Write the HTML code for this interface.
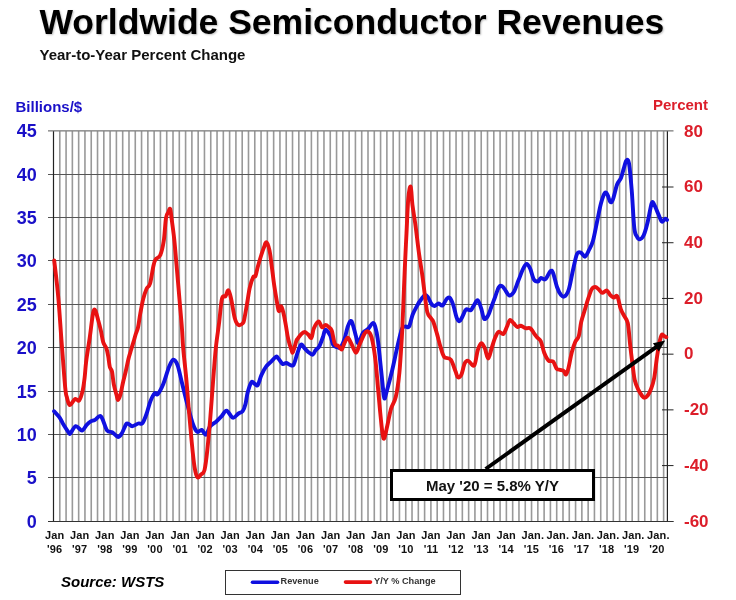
<!DOCTYPE html>
<html><head><meta charset="utf-8"><style>
html,body{margin:0;padding:0;background:#fff;}
body{width:736px;height:600px;position:relative;overflow:hidden;font-family:"Liberation Sans",Arial,sans-serif;}
.t{position:absolute;white-space:nowrap;font-weight:bold;line-height:1;}
svg{position:absolute;left:0;top:0;}
svg text{font-family:"Liberation Sans",Arial,sans-serif;font-weight:bold;}
.lb{font-size:18px;fill:#1a10c8;}
.rl{font-size:17px;fill:#dc1e2a;}
.xl{font-size:11px;fill:#111;letter-spacing:0.15px;}
</style></head><body>
<svg width="736" height="600" viewBox="0 0 736 600">
<path d="M59.79 131.3V521.3M66.08 131.3V521.3M72.37 131.3V521.3M78.66 131.3V521.3M84.95 131.3V521.3M91.24 131.3V521.3M97.53 131.3V521.3M103.82 131.3V521.3M110.11 131.3V521.3M116.40 131.3V521.3M122.69 131.3V521.3M128.98 131.3V521.3M135.27 131.3V521.3M141.56 131.3V521.3M147.85 131.3V521.3M154.14 131.3V521.3M160.43 131.3V521.3M166.72 131.3V521.3M173.01 131.3V521.3M179.30 131.3V521.3M185.59 131.3V521.3M191.88 131.3V521.3M198.17 131.3V521.3M204.46 131.3V521.3M210.75 131.3V521.3M217.04 131.3V521.3M223.33 131.3V521.3M229.62 131.3V521.3M235.91 131.3V521.3M242.20 131.3V521.3M248.49 131.3V521.3M254.78 131.3V521.3M261.07 131.3V521.3M267.36 131.3V521.3M273.65 131.3V521.3M279.94 131.3V521.3M286.23 131.3V521.3M292.52 131.3V521.3M298.81 131.3V521.3M305.10 131.3V521.3M311.39 131.3V521.3M317.68 131.3V521.3M323.97 131.3V521.3M330.26 131.3V521.3M336.55 131.3V521.3M342.84 131.3V521.3M349.13 131.3V521.3M355.42 131.3V521.3M361.71 131.3V521.3M368.00 131.3V521.3M374.29 131.3V521.3M380.58 131.3V521.3M386.87 131.3V521.3M393.16 131.3V521.3M399.45 131.3V521.3M405.74 131.3V521.3M412.03 131.3V521.3M418.32 131.3V521.3M424.61 131.3V521.3M430.90 131.3V521.3M437.19 131.3V521.3M443.48 131.3V521.3M449.77 131.3V521.3M456.06 131.3V521.3M462.35 131.3V521.3M468.64 131.3V521.3M474.93 131.3V521.3M481.22 131.3V521.3M487.51 131.3V521.3M493.80 131.3V521.3M500.09 131.3V521.3M506.38 131.3V521.3M512.67 131.3V521.3M518.96 131.3V521.3M525.25 131.3V521.3M531.54 131.3V521.3M537.83 131.3V521.3M544.12 131.3V521.3M550.41 131.3V521.3M556.70 131.3V521.3M562.99 131.3V521.3M569.28 131.3V521.3M575.57 131.3V521.3M581.86 131.3V521.3M588.15 131.3V521.3M594.44 131.3V521.3M600.73 131.3V521.3M607.02 131.3V521.3M613.31 131.3V521.3M619.60 131.3V521.3M625.89 131.3V521.3M632.18 131.3V521.3M638.47 131.3V521.3M644.76 131.3V521.3M651.05 131.3V521.3M657.34 131.3V521.3M663.63 131.3V521.3" stroke="#999" stroke-width="1.6" fill="none"/>
<path d="M48 521.50H673.5M48 477.50H667.4M48 434.50H667.4M48 391.50H667.4M48 347.50H667.4M48 304.50H667.4M48 260.50H667.4M48 217.50H667.4M48 174.50H667.4M48 130.90H673.5" stroke="#555" stroke-width="1" fill="none"/>
<path d="M48 521.5H673.5" stroke="#333" stroke-width="1" fill="none"/>
<path d="M662 465.59H673.5M662 409.87H673.5M662 354.16H673.5M662 298.44H673.5M662 242.73H673.5M662 187.01H673.5" stroke="#222" stroke-width="1" fill="none"/>
<path d="M53.5 131.3V521.3M667.4 131.3V521.3" stroke="#222" stroke-width="1.2" fill="none"/>
<path d="M54.1 411.3 C55.0 412.3 57.9 415.1 59.5 417.4 C61.1 419.6 62.0 422.2 63.6 424.8 C65.2 427.4 67.9 431.6 69.0 433.0 C70.1 434.4 69.3 434.4 70.4 433.3 C71.5 432.2 73.9 426.7 75.8 426.2 C77.7 425.7 80.1 430.7 81.9 430.5 C83.7 430.3 85.2 426.3 86.7 424.8 C88.2 423.3 89.5 422.2 90.8 421.4 C92.1 420.6 93.1 420.8 94.8 420.0 C96.5 419.2 99.0 414.7 101.0 416.4 C103.0 418.1 105.1 427.6 107.0 430.3 C108.9 433.0 110.7 431.2 112.5 432.3 C114.3 433.4 116.4 436.9 118.0 437.0 C119.6 437.1 120.5 435.2 122.0 433.0 C123.5 430.8 125.1 424.6 126.8 423.5 C128.5 422.4 130.3 426.2 132.2 426.2 C134.1 426.2 136.6 424.0 138.3 423.5 C140.0 423.0 141.0 424.8 142.4 423.2 C143.8 421.6 145.2 417.7 146.5 414.0 C147.8 410.3 149.1 404.5 150.5 401.0 C151.9 397.5 153.7 394.2 154.9 393.1 C156.1 392.0 156.3 395.8 157.7 394.2 C159.1 392.6 161.5 388.3 163.4 383.7 C165.3 379.1 167.4 370.7 169.1 366.7 C170.8 362.7 171.9 359.9 173.3 359.7 C174.7 359.5 176.2 361.5 177.6 365.3 C179.0 369.1 180.2 375.7 181.8 382.3 C183.5 388.9 185.6 397.9 187.5 405.0 C189.4 412.1 191.5 420.3 193.2 424.8 C194.8 429.3 196.0 431.0 197.4 431.9 C198.8 432.8 200.3 429.4 201.7 429.9 C203.1 430.4 204.5 435.3 205.9 434.7 C207.3 434.1 208.5 428.3 210.2 426.2 C211.8 424.1 213.9 423.6 215.8 422.0 C217.7 420.4 219.7 418.2 221.5 416.3 C223.3 414.4 224.7 410.5 226.6 410.7 C228.5 410.9 230.8 417.2 232.8 417.7 C234.8 418.2 236.8 414.6 238.5 413.5 C240.2 412.4 241.5 412.8 242.7 411.2 C243.9 409.6 244.7 407.1 245.5 404.0 C246.3 400.9 246.7 395.9 247.7 392.3 C248.7 388.7 250.2 383.6 251.4 382.2 C252.6 380.8 254.0 383.6 255.1 384.1 C256.2 384.6 256.7 386.5 257.8 385.0 C258.9 383.5 260.1 377.9 261.5 374.9 C262.9 371.8 264.4 369.0 266.1 366.7 C267.8 364.4 269.9 362.9 271.6 361.2 C273.3 359.5 275.0 356.9 276.2 356.6 C277.4 356.3 277.8 358.1 278.9 359.3 C280.0 360.5 281.4 363.3 282.6 363.9 C283.8 364.5 285.0 362.9 286.2 363.0 C287.4 363.1 288.7 364.5 289.9 364.8 C291.1 365.1 292.4 366.6 293.6 364.8 C294.8 363.0 296.0 357.2 297.2 353.8 C298.4 350.4 299.7 345.6 300.9 344.7 C302.1 343.8 303.4 347.1 304.6 348.3 C305.8 349.5 306.8 350.9 308.2 352.0 C309.6 353.1 311.6 355.0 312.8 354.7 C314.0 354.4 314.5 351.6 315.6 350.2 C316.7 348.8 318.0 348.6 319.2 346.5 C320.4 344.4 321.8 340.1 322.9 337.3 C323.9 334.5 324.3 330.0 325.5 329.7 C326.7 329.4 328.9 332.9 330.2 335.5 C331.5 338.1 332.0 343.1 333.2 345.0 C334.4 346.9 335.9 346.8 337.2 347.2 C338.4 347.6 339.5 348.6 340.7 347.2 C341.9 345.8 343.3 342.5 344.5 339.0 C345.7 335.5 346.8 328.9 348.0 326.0 C349.2 323.1 350.2 319.6 351.5 321.3 C352.8 323.0 354.8 332.4 355.9 336.0 C357.0 339.6 357.1 343.6 358.3 343.0 C359.5 342.4 361.5 335.0 363.1 332.7 C364.7 330.4 366.4 330.6 368.0 329.0 C369.6 327.4 371.6 323.4 372.8 323.0 C374.0 322.6 374.4 324.0 375.2 326.6 C376.0 329.2 376.9 333.1 377.7 338.7 C378.5 344.3 379.3 353.0 380.1 360.5 C380.9 368.0 381.8 377.2 382.5 383.5 C383.2 389.8 383.6 397.1 384.3 398.3 C385.0 399.6 385.5 395.7 386.8 391.0 C388.1 386.3 390.5 377.3 392.2 370.2 C393.9 363.1 395.4 355.3 397.0 348.4 C398.6 341.5 400.5 332.6 401.9 329.0 C403.3 325.4 404.3 327.0 405.5 326.6 C406.7 326.2 407.9 328.6 409.1 326.6 C410.3 324.6 411.3 318.1 412.7 314.5 C414.1 310.9 416.4 307.1 417.6 304.8 C418.8 302.6 418.8 302.6 420.0 301.0 C421.2 299.4 423.4 295.9 424.7 295.2 C426.0 294.5 426.7 295.5 427.8 297.0 C428.9 298.5 430.4 302.5 431.5 304.0 C432.6 305.5 433.3 306.1 434.5 306.0 C435.7 305.9 437.4 303.6 438.7 303.5 C440.0 303.4 441.1 306.3 442.5 305.5 C443.9 304.7 445.6 300.0 446.8 298.7 C448.0 297.4 448.6 296.8 449.7 297.8 C450.8 298.8 452.0 301.5 453.2 304.8 C454.4 308.1 455.6 315.0 456.7 317.7 C457.8 320.4 458.5 321.4 459.5 321.2 C460.5 321.0 461.4 318.4 462.5 316.5 C463.6 314.6 464.6 310.6 466.0 309.5 C467.4 308.4 469.3 311.0 470.7 310.2 C472.1 309.4 473.0 306.5 474.2 304.8 C475.4 303.1 476.5 299.6 477.7 300.2 C478.9 300.8 480.1 305.2 481.2 308.3 C482.3 311.4 483.0 317.6 484.2 318.8 C485.4 320.0 486.9 317.4 488.2 315.3 C489.4 313.2 490.5 309.1 491.7 306.0 C492.9 302.9 494.0 299.8 495.2 296.7 C496.4 293.6 497.5 289.1 498.7 287.3 C499.9 285.6 501.0 285.6 502.2 286.2 C503.4 286.8 504.5 289.2 505.7 290.8 C506.9 292.4 507.9 295.3 509.2 295.5 C510.5 295.7 512.2 294.5 513.8 292.0 C515.3 289.5 516.9 284.2 518.5 280.3 C520.1 276.4 521.8 271.4 523.2 268.7 C524.6 266.0 525.5 264.0 526.7 264.0 C527.9 264.0 529.0 266.2 530.2 268.7 C531.4 271.2 532.4 277.1 533.7 279.2 C535.0 281.3 536.7 281.7 537.9 281.5 C539.1 281.3 539.5 278.4 540.7 278.0 C541.9 277.6 543.7 280.3 545.3 279.2 C546.9 278.1 549.0 272.4 550.3 271.3 C551.6 270.2 551.9 270.1 553.0 272.7 C554.1 275.3 555.7 283.3 557.0 287.0 C558.3 290.7 559.7 293.5 561.0 295.0 C562.3 296.5 563.7 297.2 565.0 296.1 C566.3 295.1 567.7 293.1 569.0 288.7 C570.3 284.3 571.7 275.8 573.0 270.0 C574.3 264.2 575.7 256.9 577.0 254.0 C578.3 251.1 579.7 252.2 581.0 252.7 C582.3 253.1 583.7 257.1 585.0 256.7 C586.3 256.2 587.7 252.7 589.0 250.0 C590.3 247.3 591.7 245.4 593.0 240.7 C594.3 236.0 595.7 228.2 597.0 222.0 C598.3 215.8 599.7 208.2 601.0 203.3 C602.3 198.4 603.9 194.0 605.0 192.7 C606.1 191.4 606.8 193.8 607.7 195.3 C608.6 196.9 609.4 201.3 610.3 202.0 C611.2 202.7 611.9 202.2 613.0 199.3 C614.1 196.4 615.7 188.2 617.0 184.7 C618.3 181.1 619.9 180.7 621.0 178.0 C622.1 175.3 622.8 171.6 623.7 168.7 C624.6 165.8 625.4 161.6 626.3 160.7 C627.2 159.8 628.1 158.4 629.0 163.3 C629.9 168.2 630.8 179.2 631.7 190.0 C632.6 200.8 633.4 220.2 634.3 228.0 C635.2 235.8 636.1 234.8 637.0 236.7 C637.9 238.6 638.6 239.5 639.7 239.3 C640.8 239.1 642.4 238.2 643.7 235.3 C645.0 232.4 646.4 227.3 647.7 222.0 C649.0 216.7 650.6 206.2 651.7 203.3 C652.8 200.4 653.2 202.9 654.3 204.7 C655.4 206.5 657.0 211.2 658.3 214.0 C659.5 216.8 660.7 220.7 661.8 221.5 C662.9 222.3 664.1 219.1 665.0 218.8 C665.9 218.5 666.7 219.7 667.0 219.9" stroke="#1010e0" stroke-width="3.9" fill="none" stroke-linejoin="round" stroke-linecap="round"/>
<path d="M54.2 260.5 C54.9 266.5 57.0 282.8 58.2 296.6 C59.5 310.4 60.5 328.1 61.7 343.2 C62.9 358.3 64.3 378.4 65.2 387.5 C66.1 396.6 66.2 394.8 67.0 397.7 C67.8 400.6 68.4 404.9 69.7 405.1 C71.0 405.3 73.5 399.8 75.1 399.0 C76.7 398.2 78.0 401.8 79.2 400.4 C80.5 399.0 81.7 394.6 82.6 390.9 C83.5 387.2 84.0 382.8 84.6 378.0 C85.2 373.2 85.3 368.5 86.1 361.9 C86.9 355.3 88.4 346.8 89.6 338.6 C90.8 330.5 92.1 317.7 93.1 313.0 C94.0 308.3 94.4 309.3 95.3 310.5 C96.2 311.7 97.2 316.8 98.2 320.2 C99.2 323.6 100.2 327.5 101.0 331.2 C101.8 334.9 102.3 339.3 103.2 342.2 C104.1 345.1 105.7 346.2 106.5 348.6 C107.3 351.0 107.8 353.8 108.3 356.8 C108.8 359.9 109.2 364.4 109.8 366.9 C110.4 369.3 111.3 368.6 112.0 371.5 C112.7 374.4 113.0 380.3 113.8 384.3 C114.6 388.3 115.9 392.7 116.6 395.3 C117.3 397.9 117.4 400.0 118.0 400.0 C118.6 400.0 119.4 398.2 120.2 395.3 C121.0 392.4 122.1 386.5 123.0 382.5 C123.9 378.5 124.8 375.5 125.7 371.5 C126.6 367.5 127.6 362.4 128.5 358.7 C129.4 355.0 130.3 352.6 131.2 349.5 C132.1 346.4 133.2 342.9 134.0 340.3 C134.8 337.7 135.1 336.0 135.8 333.9 C136.5 331.8 137.2 330.9 138.0 327.5 C138.8 324.1 139.4 318.2 140.3 313.5 C141.2 308.8 142.1 303.2 143.2 299.0 C144.3 294.8 145.6 291.0 146.7 288.5 C147.8 286.0 148.9 287.4 150.0 283.8 C151.1 280.2 152.3 271.1 153.2 267.0 C154.1 262.9 154.3 261.4 155.5 259.5 C156.7 257.6 158.8 258.3 160.2 255.3 C161.6 252.3 162.7 247.5 163.7 241.3 C164.7 235.1 165.2 222.8 166.0 218.0 C166.8 213.2 167.6 213.7 168.3 212.2 C169.0 210.7 169.6 207.8 170.2 209.1 C170.8 210.4 171.1 215.3 171.8 220.3 C172.5 225.3 173.4 231.6 174.2 239.0 C175.0 246.4 175.6 254.6 176.5 264.7 C177.4 274.8 178.6 289.2 179.5 299.7 C180.4 310.2 181.3 319.6 181.9 327.7 C182.5 335.8 182.5 340.1 183.2 348.3 C183.9 356.5 185.1 366.3 186.1 376.7 C187.1 387.1 188.0 399.8 188.9 410.7 C189.8 421.6 190.8 432.4 191.7 441.8 C192.6 451.2 193.6 461.4 194.6 467.3 C195.6 473.2 196.3 476.0 197.4 477.2 C198.5 478.4 199.9 475.6 201.1 474.4 C202.3 473.2 203.5 474.1 204.5 470.1 C205.5 466.1 206.4 458.8 207.3 450.3 C208.2 441.8 209.2 430.5 210.2 419.2 C211.1 407.9 212.1 394.1 213.0 382.3 C213.9 370.5 214.8 358.4 215.8 348.3 C216.8 338.2 218.2 330.3 219.2 322.0 C220.2 313.7 220.9 302.8 222.0 298.5 C223.1 294.2 224.4 297.6 225.5 296.2 C226.6 294.8 227.5 289.7 228.5 290.3 C229.5 290.9 230.2 295.0 231.3 299.7 C232.4 304.4 233.6 314.1 234.8 318.3 C236.0 322.5 236.9 324.1 238.3 324.9 C239.7 325.7 242.0 324.1 243.0 323.0 C244.0 321.9 243.8 321.2 244.5 318.0 C245.2 314.8 246.1 309.0 247.0 304.0 C247.9 299.0 248.7 292.5 249.7 288.0 C250.7 283.5 252.2 279.2 253.2 277.2 C254.2 275.2 254.7 277.8 255.5 276.0 C256.3 274.2 256.8 270.2 257.8 266.7 C258.8 263.2 260.3 258.1 261.3 255.0 C262.3 251.9 262.8 250.1 263.7 248.0 C264.6 245.9 265.5 241.8 266.5 242.2 C267.5 242.6 268.6 246.2 269.5 250.3 C270.4 254.4 271.0 260.9 271.8 266.7 C272.6 272.5 273.4 279.9 274.2 285.3 C275.0 290.7 275.7 295.0 276.5 299.3 C277.3 303.6 278.0 309.8 278.8 311.0 C279.6 312.2 280.4 305.9 281.2 306.3 C282.0 306.7 282.7 310.2 283.5 313.3 C284.3 316.4 285.0 320.7 285.8 325.0 C286.6 329.3 287.2 334.7 288.2 339.0 C289.2 343.3 290.9 348.5 291.7 350.7 C292.5 352.9 292.2 353.6 293.0 352.0 C293.8 350.4 295.6 343.2 296.3 341.0 C297.1 338.8 296.7 340.1 297.5 339.0 C298.3 337.9 299.8 335.5 301.0 334.3 C302.2 333.1 303.3 332.0 304.5 332.0 C305.7 332.0 306.8 333.3 308.0 334.3 C309.2 335.3 310.5 338.8 311.5 337.8 C312.5 336.8 312.6 331.2 313.8 328.5 C315.0 325.8 317.1 321.7 318.5 321.5 C319.9 321.3 320.8 326.7 322.0 327.3 C323.2 327.9 324.3 325.0 325.5 325.0 C326.7 325.0 327.9 326.3 329.0 327.3 C330.1 328.3 330.8 328.1 331.8 330.8 C332.8 333.5 333.7 341.2 334.8 343.7 C335.9 346.2 337.1 345.0 338.3 346.0 C339.5 347.0 340.8 350.0 341.8 349.5 C342.8 349.0 343.5 344.9 344.5 343.0 C345.5 341.1 346.7 337.8 347.8 337.8 C348.9 337.8 349.6 340.5 351.0 343.0 C352.4 345.5 354.5 352.4 355.9 352.7 C357.3 353.0 358.1 347.9 359.5 344.8 C360.9 341.7 363.0 336.1 364.4 333.9 C365.8 331.7 366.8 330.9 368.0 331.5 C369.2 332.1 370.4 333.1 371.6 337.5 C372.8 341.9 374.2 350.2 375.2 358.1 C376.2 366.0 376.9 375.8 377.7 384.7 C378.5 393.6 379.3 403.2 380.1 411.3 C380.9 419.4 381.8 428.6 382.5 433.1 C383.2 437.6 383.4 439.6 384.2 438.4 C385.0 437.2 386.2 430.7 387.3 425.8 C388.4 420.9 389.6 413.7 391.0 408.9 C392.4 404.1 394.4 402.9 395.8 396.8 C397.2 390.8 398.4 382.7 399.4 372.6 C400.4 362.5 401.3 345.9 401.9 336.3 C402.5 326.7 402.4 326.3 402.9 315.0 C403.4 303.7 404.2 281.9 404.8 268.3 C405.4 254.7 405.9 245.0 406.5 233.3 C407.1 221.6 407.6 206.1 408.3 198.3 C409.0 190.5 410.0 185.5 410.7 186.7 C411.4 187.9 411.7 199.1 412.5 205.3 C413.3 211.5 414.2 216.2 415.3 224.0 C416.4 231.8 417.6 243.4 418.8 252.0 C420.0 260.6 421.3 268.3 422.3 275.3 C423.3 282.3 423.9 287.9 424.7 294.0 C425.5 300.1 426.3 308.1 427.3 312.1 C428.3 316.1 429.9 316.5 430.9 318.1 C431.9 319.7 432.3 319.2 433.3 321.8 C434.3 324.4 435.8 329.7 437.0 333.9 C438.2 338.1 439.4 343.4 440.6 347.2 C441.8 351.0 442.5 354.8 444.2 356.9 C445.9 359.0 448.9 357.3 450.8 359.7 C452.7 362.1 454.3 368.4 455.5 371.3 C456.7 374.2 456.8 376.6 457.8 377.2 C458.8 377.8 460.1 377.1 461.3 374.8 C462.5 372.5 463.6 365.5 464.8 363.2 C466.0 360.9 466.7 360.4 468.3 360.8 C469.9 361.2 472.6 367.2 474.2 365.5 C475.8 363.8 476.5 354.0 477.7 350.3 C478.9 346.6 480.0 343.7 481.2 343.3 C482.4 342.9 483.5 345.5 484.7 348.0 C485.9 350.5 487.0 358.5 488.2 358.5 C489.4 358.5 490.5 351.5 491.7 348.0 C492.9 344.5 494.0 340.2 495.2 337.5 C496.4 334.8 497.3 332.3 498.7 331.7 C500.1 331.1 501.9 334.8 503.3 334.0 C504.7 333.2 505.7 329.3 506.8 327.0 C507.9 324.7 508.7 320.6 509.9 320.0 C511.1 319.4 512.6 322.3 513.8 323.5 C515.0 324.7 516.1 326.6 517.3 327.0 C518.5 327.4 519.4 325.6 520.8 325.8 C522.2 326.0 523.9 327.8 525.5 328.2 C527.1 328.6 528.8 327.4 530.2 328.2 C531.6 329.0 532.5 331.2 533.7 332.8 C534.9 334.4 536.0 336.1 537.2 337.5 C538.4 338.9 539.5 338.5 540.7 341.0 C541.9 343.5 542.9 349.4 544.2 352.7 C545.5 355.9 547.0 359.0 548.5 360.5 C550.0 362.0 551.8 360.3 553.2 361.7 C554.6 363.1 555.5 367.3 556.7 368.7 C557.9 370.1 559.0 369.4 560.2 369.8 C561.4 370.2 562.7 370.2 563.7 371.0 C564.7 371.8 565.2 374.9 566.0 374.5 C566.8 374.1 567.3 372.4 568.3 368.7 C569.3 365.0 570.6 356.8 571.8 352.3 C573.0 347.8 574.1 344.5 575.3 341.8 C576.5 339.1 577.8 339.3 578.8 336.0 C579.8 332.7 580.2 326.3 581.2 322.0 C582.2 317.7 583.5 314.2 584.7 310.3 C585.9 306.4 587.0 302.2 588.2 298.7 C589.4 295.2 590.5 291.2 591.7 289.3 C592.9 287.4 594.0 287.0 595.2 287.0 C596.4 287.0 597.5 288.3 598.7 289.3 C599.9 290.3 600.9 292.6 602.2 292.8 C603.6 293.0 605.4 290.1 606.8 290.5 C608.1 290.9 609.1 294.0 610.3 295.2 C611.5 296.4 612.6 297.3 613.8 297.5 C615.0 297.7 616.1 294.4 617.3 296.3 C618.5 298.2 619.6 305.9 620.8 309.2 C622.0 312.5 623.1 313.9 624.3 316.2 C625.5 318.5 626.8 318.3 627.8 323.2 C628.8 328.1 629.4 338.5 630.2 345.3 C631.0 352.1 631.7 358.2 632.5 364.0 C633.3 369.8 633.8 376.0 634.8 380.3 C635.8 384.6 637.1 387.2 638.3 389.7 C639.5 392.2 640.8 394.1 641.8 395.5 C642.8 396.9 643.2 397.8 644.2 397.8 C645.2 397.8 646.5 397.1 647.7 395.5 C648.9 393.9 650.1 391.4 651.2 388.5 C652.3 385.6 653.2 383.2 654.2 378.0 C655.2 372.8 656.1 362.8 657.0 357.0 C657.9 351.2 658.5 346.7 659.3 343.0 C660.1 339.3 660.9 336.0 661.7 334.8 C662.5 333.6 663.2 335.6 664.0 336.0 C664.8 336.4 665.9 337.0 666.3 337.2" stroke="#e81212" stroke-width="3.9" fill="none" stroke-linejoin="round" stroke-linecap="round"/>
<path d="M485.6 469L656.8 346.6" stroke="#000" stroke-width="3.9" fill="none"/>
<path d="M665.2 340.6L658.8 351.4L652.9 343.2Z" fill="#000"/>
<rect x="391.5" y="470.5" width="202" height="29" fill="#fff" stroke="#000" stroke-width="3"/>
<text x="492.5" y="490.6" text-anchor="middle" font-family="Liberation Sans, Arial, sans-serif" font-weight="bold" font-size="15" fill="#111">May '20 = 5.8% Y/Y</text>
<text x="36.8" y="527.5" text-anchor="end" class="lb">0</text>
<text x="36.8" y="483.5" text-anchor="end" class="lb">5</text>
<text x="36.8" y="440.5" text-anchor="end" class="lb">10</text>
<text x="36.8" y="397.5" text-anchor="end" class="lb">15</text>
<text x="36.8" y="353.5" text-anchor="end" class="lb">20</text>
<text x="36.8" y="310.5" text-anchor="end" class="lb">25</text>
<text x="36.8" y="266.5" text-anchor="end" class="lb">30</text>
<text x="36.8" y="223.5" text-anchor="end" class="lb">35</text>
<text x="36.8" y="180.5" text-anchor="end" class="lb">40</text>
<text x="36.8" y="136.9" text-anchor="end" class="lb">45</text>
<text x="684" y="526.5" class="rl">-60</text>
<text x="684" y="470.8" class="rl">-40</text>
<text x="684" y="415.1" class="rl">-20</text>
<text x="684" y="359.4" class="rl">0</text>
<text x="684" y="303.6" class="rl">20</text>
<text x="684" y="247.9" class="rl">40</text>
<text x="684" y="192.2" class="rl">60</text>
<text x="684" y="136.5" class="rl">80</text>
<text x="54.6" y="538.9" text-anchor="middle" class="xl">Jan</text>
<text x="54.6" y="552.8" text-anchor="middle" class="xl">'96</text>
<text x="79.7" y="538.9" text-anchor="middle" class="xl">Jan</text>
<text x="79.7" y="552.8" text-anchor="middle" class="xl">'97</text>
<text x="104.8" y="538.9" text-anchor="middle" class="xl">Jan</text>
<text x="104.8" y="552.8" text-anchor="middle" class="xl">'98</text>
<text x="129.9" y="538.9" text-anchor="middle" class="xl">Jan</text>
<text x="129.9" y="552.8" text-anchor="middle" class="xl">'99</text>
<text x="155.0" y="538.9" text-anchor="middle" class="xl">Jan</text>
<text x="155.0" y="552.8" text-anchor="middle" class="xl">'00</text>
<text x="180.1" y="538.9" text-anchor="middle" class="xl">Jan</text>
<text x="180.1" y="552.8" text-anchor="middle" class="xl">'01</text>
<text x="205.1" y="538.9" text-anchor="middle" class="xl">Jan</text>
<text x="205.1" y="552.8" text-anchor="middle" class="xl">'02</text>
<text x="230.2" y="538.9" text-anchor="middle" class="xl">Jan</text>
<text x="230.2" y="552.8" text-anchor="middle" class="xl">'03</text>
<text x="255.3" y="538.9" text-anchor="middle" class="xl">Jan</text>
<text x="255.3" y="552.8" text-anchor="middle" class="xl">'04</text>
<text x="280.4" y="538.9" text-anchor="middle" class="xl">Jan</text>
<text x="280.4" y="552.8" text-anchor="middle" class="xl">'05</text>
<text x="305.5" y="538.9" text-anchor="middle" class="xl">Jan</text>
<text x="305.5" y="552.8" text-anchor="middle" class="xl">'06</text>
<text x="330.6" y="538.9" text-anchor="middle" class="xl">Jan</text>
<text x="330.6" y="552.8" text-anchor="middle" class="xl">'07</text>
<text x="355.7" y="538.9" text-anchor="middle" class="xl">Jan</text>
<text x="355.7" y="552.8" text-anchor="middle" class="xl">'08</text>
<text x="380.8" y="538.9" text-anchor="middle" class="xl">Jan</text>
<text x="380.8" y="552.8" text-anchor="middle" class="xl">'09</text>
<text x="405.9" y="538.9" text-anchor="middle" class="xl">Jan</text>
<text x="405.9" y="552.8" text-anchor="middle" class="xl">'10</text>
<text x="431.0" y="538.9" text-anchor="middle" class="xl">Jan</text>
<text x="431.0" y="552.8" text-anchor="middle" class="xl">'11</text>
<text x="456.0" y="538.9" text-anchor="middle" class="xl">Jan</text>
<text x="456.0" y="552.8" text-anchor="middle" class="xl">'12</text>
<text x="481.1" y="538.9" text-anchor="middle" class="xl">Jan</text>
<text x="481.1" y="552.8" text-anchor="middle" class="xl">'13</text>
<text x="506.2" y="538.9" text-anchor="middle" class="xl">Jan</text>
<text x="506.2" y="552.8" text-anchor="middle" class="xl">'14</text>
<text x="532.8" y="538.9" text-anchor="middle" class="xl">Jan.</text>
<text x="531.3" y="552.8" text-anchor="middle" class="xl">'15</text>
<text x="557.9" y="538.9" text-anchor="middle" class="xl">Jan.</text>
<text x="556.4" y="552.8" text-anchor="middle" class="xl">'16</text>
<text x="583.0" y="538.9" text-anchor="middle" class="xl">Jan.</text>
<text x="581.5" y="552.8" text-anchor="middle" class="xl">'17</text>
<text x="608.1" y="538.9" text-anchor="middle" class="xl">Jan.</text>
<text x="606.6" y="552.8" text-anchor="middle" class="xl">'18</text>
<text x="633.2" y="538.9" text-anchor="middle" class="xl">Jan.</text>
<text x="631.7" y="552.8" text-anchor="middle" class="xl">'19</text>
<text x="658.3" y="538.9" text-anchor="middle" class="xl">Jan.</text>
<text x="656.8" y="552.8" text-anchor="middle" class="xl">'20</text>
</svg>
<div class="t" style="left:39.5px;top:5px;font-size:35.5px;color:#000;text-shadow:1px 1px 2px rgba(0,0,0,0.25);">Worldwide Semiconductor Revenues</div>
<div class="t" style="left:39.5px;top:47px;font-size:15px;color:#111;">Year-to-Year Percent Change</div>
<div class="t" style="left:15.5px;top:99px;font-size:15px;color:#1a10c8;">Billions/$</div>
<div class="t" style="left:653px;top:97.2px;font-size:15px;color:#dc1e2a;">Percent</div>
<div class="t" style="left:61px;top:574px;font-size:15px;font-style:italic;color:#000;">Source: WSTS</div>
<div style="position:absolute;left:225px;top:570px;width:233.5px;height:23px;border:1px solid #333;background:#fff;"></div>
<svg width="736" height="600" style="pointer-events:none"><path d="M252.5 582.2H277.5" stroke="#1010e0" stroke-width="3.6" stroke-linecap="round"/><path d="M345.5 582.1H370.5" stroke="#e81212" stroke-width="3.6" stroke-linecap="round"/></svg>
<div class="t" style="left:280.5px;top:577px;font-size:9.2px;color:#333;">Revenue</div>
<div class="t" style="left:374px;top:577px;font-size:9.2px;color:#333;">Y/Y % Change</div>
</body></html>
